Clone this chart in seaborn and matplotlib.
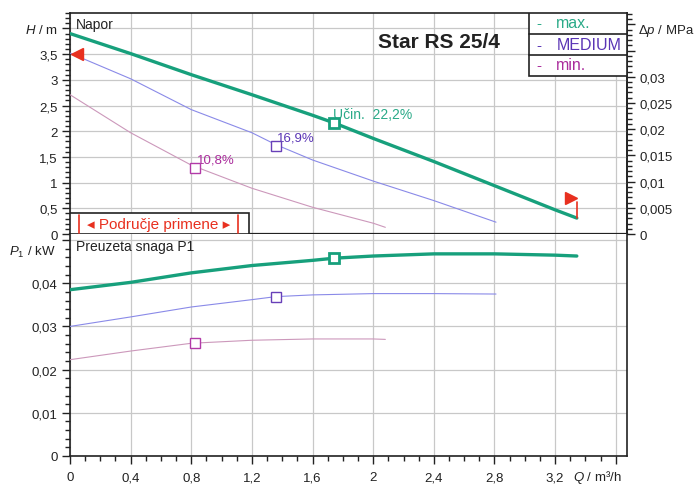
import numpy as np
import pandas as pd
import matplotlib.pyplot as plt
import seaborn as sns
from matplotlib.patches import Rectangle
from matplotlib.ticker import MultipleLocator, FuncFormatter

sns.set_style("ticks")
plt.rcParams['font.family'] = ['Liberation Sans', 'DejaVu Sans']
plt.rcParams['mathtext.fontset'] = 'custom'
plt.rcParams['mathtext.it'] = 'Liberation Sans:italic'
plt.rcParams['mathtext.rm'] = 'Liberation Sans'

# head curves H [m] vs Q [m3/h]
q_max = [0, 0.4, 0.8, 1.2, 1.6, 1.743, 2.0, 2.4, 2.8, 3.2, 3.343]
h_max = [3.9, 3.51, 3.10, 2.71, 2.31, 2.16, 1.86, 1.41, 0.94, 0.47, 0.31]
q_med = [0, 0.4, 0.8, 1.2, 1.357, 1.6, 2.0, 2.4, 2.81]
h_med = [3.52, 3.02, 2.42, 1.97, 1.74, 1.44, 1.03, 0.65, 0.23]
q_min = [0, 0.4, 0.8, 1.2, 1.6, 2.0, 2.08]
h_min = [2.71, 1.97, 1.34, 0.89, 0.52, 0.21, 0.13]

# power curves P1 [kW]
p_max = [0.0385, 0.0402, 0.0424, 0.0441, 0.0453, 0.0458, 0.0463, 0.0468, 0.0468, 0.0465, 0.0463]
p_med = [0.0300, 0.0322, 0.0345, 0.0362, 0.0369, 0.0373, 0.0376, 0.0376, 0.0375]
p_min = [0.0223, 0.0243, 0.0261, 0.0268, 0.0271, 0.0271, 0.0270]

# best efficiency points
bep_q = [1.743, 1.357, 0.825]
bep_h = [2.16, 1.72, 1.28]
bep_p = [0.0458, 0.0369, 0.0261]
bep_text = ['Učin.  22,2%', '16,9%', '10,8%']

speeds = ['max.', 'MEDIUM', 'min.']
line_col = ['#17a07c', '#8a8ae8', '#cc98bb']
mark_col = ['#17a07c', '#6840b8', '#b23aa8']
text_col = ['#2aaa88', '#5a35b5', '#aa2c9c']
line_w = [2.4, 0.8, 0.8]

# setpoint marks (red)
set_q = [0.045, 3.305]
set_h = [3.5, 0.71]
red = '#e8301f'

MPA_PER_M = 0.00980665


def comma(v):
    return f"{round(v, 4):g}".replace('.', ',')


fig = plt.figure(figsize=(6.98, 4.85), dpi=100)
ax1 = fig.add_axes([70 / 698, 250 / 485, 557 / 698, 221 / 485])
ax2 = fig.add_axes([70 / 698, 28 / 485, 557 / 698, 222 / 485])

curves = [(q_max, h_max, p_max), (q_med, h_med, p_med), (q_min, h_min, p_min)]
for i, (q, h, p) in enumerate(curves):
    sns.lineplot(x=q, y=h, ax=ax1, color=line_col[i], lw=line_w[i], zorder=3)
    sns.lineplot(x=q, y=p, ax=ax2, color=line_col[i], lw=line_w[i], zorder=3)
    lw_m = 2.0 if i == 0 else 1.0
    ax1.plot(bep_q[i], bep_h[i], 's', ms=7, mfc='white', mec=mark_col[i], mew=lw_m, zorder=4)
    ax2.plot(bep_q[i], bep_p[i], 's', ms=7, mfc='white', mec=mark_col[i], mew=lw_m, zorder=4)

ax1.text(bep_q[0] - 0.005, bep_h[0] + 0.18, bep_text[0], color=text_col[0], fontsize=10, va='center')
ax1.text(bep_q[1] + 0.01, bep_h[1] + 0.15, bep_text[1], color=text_col[1], fontsize=9.5, va='center')
ax1.text(bep_q[2] + 0.015, bep_h[2] + 0.17, bep_text[2], color=text_col[2], fontsize=9.5, va='center')

# red setpoint markers
ax1.plot(set_q[0], set_h[0], '<', ms=8, color=red, zorder=5, clip_on=False)
ax1.plot(set_q[1], set_h[1], '>', ms=8, color=red, zorder=5)
ax1.plot([q_max[-1], q_max[-1]], [h_max[-1], 0.62], color=red, lw=1.2, zorder=5)

# axes ranges, ticks, grid
for ax in (ax1, ax2):
    ax.set_xlim(0, 3.674)
    ax.xaxis.set_major_locator(MultipleLocator(0.4))
    ax.grid(True, which='major', color='#c8c8c8', lw=0.9, zorder=0)
    ax.set_axisbelow(True)
    for s in ax.spines.values():
        s.set_color('#222')
        s.set_linewidth(1.2)
    ax.tick_params(which='major', length=6, width=1, color='#222', labelsize=9.5, labelcolor='#222', pad=3)
    ax.tick_params(which='minor', length=3.5, width=1, color='#222')
    ax.set_xlabel('')
    ax.set_ylabel('')

ax1.set_ylim(0, 4.30)
ax1.yaxis.set_major_locator(MultipleLocator(0.5))
ax1.yaxis.set_minor_locator(MultipleLocator(0.1))
ax1.yaxis.set_major_formatter(FuncFormatter(lambda v, p: '' if v > 3.9 else comma(v)))
ax1.tick_params(axis='x', which='both', length=0, labelbottom=False)
ax1.spines['bottom'].set_linewidth(1.6)

ax2.set_ylim(0, 0.0514)
ax2.yaxis.set_major_locator(MultipleLocator(0.01))
ax2.yaxis.set_minor_locator(MultipleLocator(0.002))
ax2.yaxis.set_major_formatter(FuncFormatter(lambda v, p: '' if v > 0.045 else comma(v)))
ax2.xaxis.set_minor_locator(MultipleLocator(0.1))
ax2.xaxis.set_major_formatter(FuncFormatter(lambda v, p: '' if v > 3.4 else comma(v)))
ax2.tick_params(axis='x', pad=5)
ax2.spines['top'].set_visible(False)

# secondary pressure axis
sec = ax1.secondary_yaxis('right', functions=(lambda h: h * MPA_PER_M, lambda d: d / MPA_PER_M))
sec.yaxis.set_major_locator(MultipleLocator(0.005))
sec.yaxis.set_minor_locator(MultipleLocator(0.001))
sec.yaxis.set_major_formatter(FuncFormatter(lambda v, p: '' if v > 0.032 else comma(v)))
sec.tick_params(which='major', length=6, width=1, color='#222', labelsize=9.5, labelcolor='#222', pad=3)
sec.tick_params(which='minor', length=3.5, width=1, color='#222')
sec.spines['right'].set_color('#222')
sec.spines['right'].set_linewidth(1.2)

# panel titles
ax1.text(0.01, 0.950, 'Napor', transform=ax1.transAxes, fontsize=10, va='center', color='#222')
ax2.text(0.01, 0.946, 'Preuzeta snaga P1', transform=ax2.transAxes, fontsize=10, va='center', color='#222')
ax1.text(0.553, 0.873, 'Star RS 25/4', transform=ax1.transAxes, fontsize=15, fontweight='bold',
         va='center', color='#222')

# axis labels placed as in the catalogue sheet
fig.text(58 / 698, 1 - 31 / 485, r'$H$ / m', ha='right', va='center', fontsize=9.5, color='#222')
fig.text(638 / 698, 1 - 31 / 485, r'$\Delta p$ / MPa', ha='left', va='center', fontsize=9.5, color='#222')
fig.text(55 / 698, 1 - 252 / 485, r'$P_1$ / kW', ha='right', va='center', fontsize=9.5, color='#222')
fig.text(573 / 698, 1 - 478 / 485, r'$Q$ / m³/h', ha='left', va='center', fontsize=9.5, color='#222')

# operating range box
ax1.add_patch(Rectangle((0, 0), 0.321, 0.095, transform=ax1.transAxes, fc='white', ec='#222',
                        lw=1.2, zorder=6))
for bx in (0.016, 0.301):
    ax1.plot([bx, bx], [0.005, 0.086], transform=ax1.transAxes, color=red, lw=1.2, zorder=7)
ax1.text(0.159, 0.045, '◂ Područje primene ▸', transform=ax1.transAxes, color=red, fontsize=11,
         ha='center', va='center', zorder=7)

# speed legend box
ax1.add_patch(Rectangle((0.824, 0.716), 0.176, 0.284, transform=ax1.transAxes, fc='white', ec='#222',
                        lw=1.2, zorder=6))
for ly in (0.905, 0.81):
    ax1.plot([0.824, 1.0], [ly, ly], transform=ax1.transAxes, color='#222', lw=1.2, zorder=7)
for i, ry in enumerate([0.955, 0.857, 0.765]):
    ax1.text(0.838, ry, '-', transform=ax1.transAxes, color=text_col[i], fontsize=11, va='center', zorder=7)
    ax1.text(0.873, ry, speeds[i], transform=ax1.transAxes, color=text_col[i], fontsize=11.5,
             va='center', zorder=7)

plt.savefig('out.png', dpi=100)
